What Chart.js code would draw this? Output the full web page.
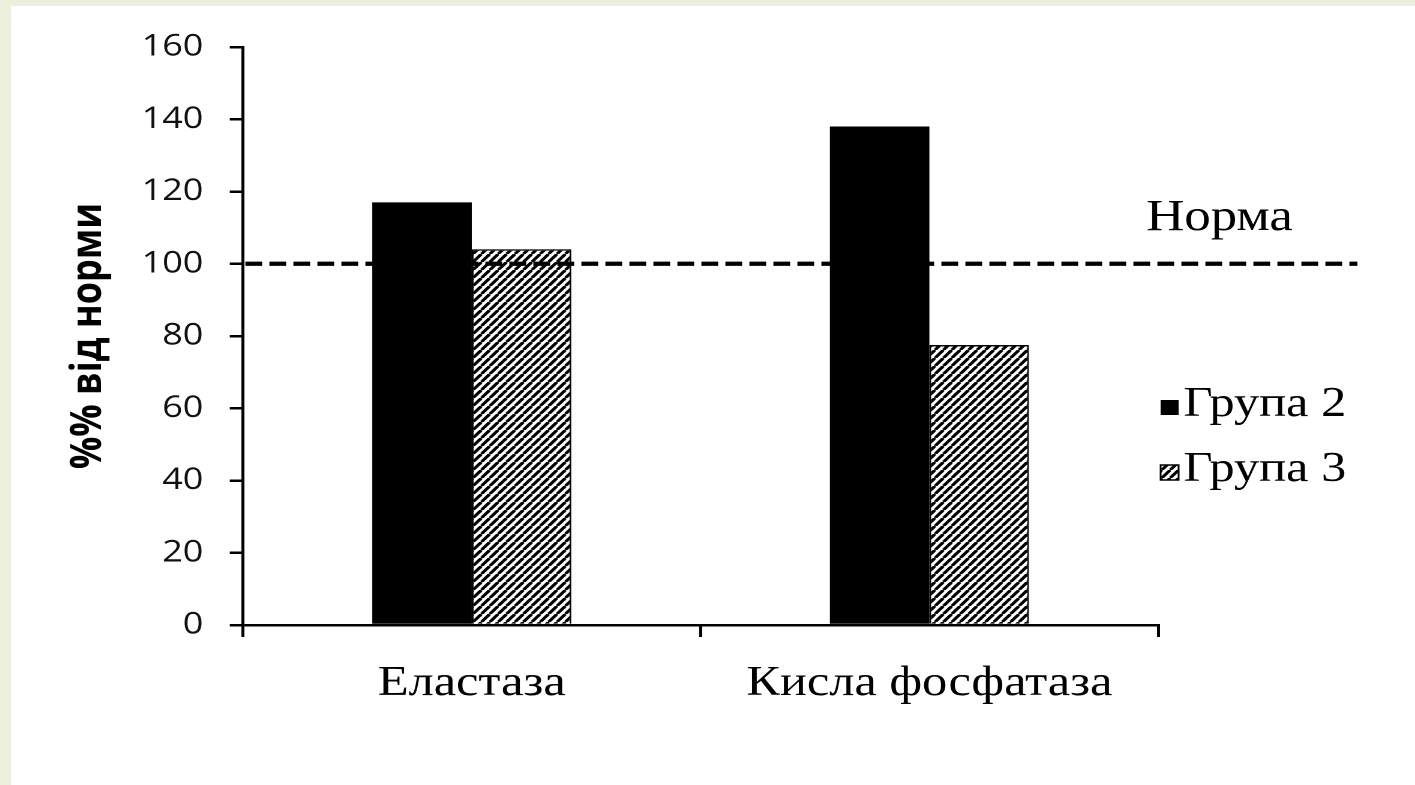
<!DOCTYPE html>
<html>
<head>
<meta charset="utf-8">
<script src="https://cdn.jsdelivr.net/npm/chart.js@4/dist/chart.umd.min.js"></script>
<style>
  html, body { margin: 0; padding: 0; width: 1415px; height: 785px; overflow: hidden; background: #edf0dc; }
  #sheet { position: absolute; left: 11px; top: 6px; width: 1404px; height: 779px; background: #fff; overflow: hidden; }
  /* the original picture is stretched sideways, so is ours */
  #stretch { width: 1170px; height: 779px; transform: scaleX(1.2); transform-origin: 0 0; }
</style>
</head>
<body>
<div id="sheet"><div id="stretch"><canvas id="chart"></canvas></div></div>
<script>
// дані з рисунка
const categories = ['Еластаза', 'Кисла фосфатаза'];
const group2 = [117, 138];
const group3 = [104, 77.5];
const seriesNames = ['Група 2', 'Група 3'];
const NORM_VALUE = 100;
const NORM_LABEL = 'Норма';
const Y_TITLE = '%% від норми';
const Y_MIN = 0, Y_MAX = 160, Y_STEP = 20;

const SERIF = '"Liberation Serif", "Times New Roman", serif';
const SANS = '"Open Sans", "DejaVu Sans", sans-serif';

// штрихування для групи 3
function hatchPattern(){
  const c = document.createElement('canvas');
  const w = 14, h = 16;
  c.width = w; c.height = h;
  const g = c.getContext('2d');
  g.fillStyle = '#fff';
  g.fillRect(0, 0, w, h);
  g.strokeStyle = '#000';
  g.lineWidth = 5.5;
  [-w, 0, w].forEach(dx => {
    g.beginPath();
    g.moveTo(dx, h);
    g.lineTo(dx + w, 0);
    g.stroke();
  });
  const p = document.createElement('canvas').getContext('2d').createPattern(c, 'repeat');
  p.setTransform(new DOMMatrix().scale(0.5));
  return p;
}
const hatch = hatchPattern();

const extras = {
  id: 'extras',
  afterDatasetsDraw(chart){
    const { ctx, chartArea, scales: { y } } = chart;
    const py = y.getPixelForValue(NORM_VALUE);
    ctx.save();
    ctx.setLineDash([14, 6]);
    ctx.lineWidth = 4.2;
    ctx.strokeStyle = '#000';
    ctx.beginPath();
    ctx.moveTo(chartArea.left + 2, py);
    ctx.lineTo(chartArea.right + 166, py);
    ctx.stroke();
    ctx.restore();
  },
  afterDraw(chart){
    const { ctx, chartArea, scales: { y } } = chart;
    const py = y.getPixelForValue(NORM_VALUE);
    ctx.save();
    ctx.fillStyle = '#000';
    ctx.textBaseline = 'alphabetic';
    ctx.font = '44px ' + SERIF;
    ctx.fillText(NORM_LABEL, chartArea.right - 10, py - 34);

    // легенда
    ctx.font = '42px ' + SERIF;
    chart.data.datasets.forEach((ds, i) => {
      const base = chartArea.top + 369 + i * 65;
      const sx = chartArea.right + 2;
      ctx.fillStyle = ds.backgroundColor;
      ctx.fillRect(sx, base - 16, 15, 15);
      if(ds.borderWidth){
        ctx.lineWidth = 1.5;
        ctx.strokeStyle = '#000';
        ctx.strokeRect(sx, base - 16, 15, 15);
      }
      ctx.fillStyle = '#000';
      ctx.fillText(ds.label, sx + 19, base);
    });
    ctx.restore();
  }
};

new Chart(document.getElementById('chart'), {
  type: 'bar',
  data: {
    labels: categories,
    datasets: [
      { label: seriesNames[0], data: group2, backgroundColor: '#000', borderWidth: 0 },
      { label: seriesNames[1], data: group3, backgroundColor: hatch, borderColor: '#000', borderWidth: 1.5 }
    ]
  },
  options: {
    responsive: true,
    maintainAspectRatio: false,
    devicePixelRatio: 2,
    animation: false,
    layout: { padding: { top: 41, right: 214, bottom: 0, left: 0 } },
    plugins: { legend: { display: false }, tooltip: { enabled: false } },
    datasets: { bar: { barPercentage: 1, categoryPercentage: 0.435 } },
    scales: {
      x: {
        afterFit: s => { s.height = 160; },
        grid: { offset: true, drawOnChartArea: false, drawTicks: true, tickLength: 12, color: '#000', lineWidth: 2.5 },
        border: { display: true, color: '#000', width: 2.5 },
        ticks: { color: '#000', padding: 22, font: { family: SERIF, size: 42 } }
      },
      y: {
        min: Y_MIN, max: Y_MAX,
        afterFit: s => { s.width = 193.3; },
        grid: { drawOnChartArea: false, drawTicks: true, tickLength: 11, color: '#000', lineWidth: 2.5 },
        border: { display: true, color: '#000', width: 2.5 },
        ticks: { stepSize: Y_STEP, color: '#111', padding: 22, font: { family: SANS, size: 30 } },
        title: { display: true, text: Y_TITLE, color: '#000', padding: { top: 43, bottom: 0 },
                 font: { family: SANS, size: 36, weight: 'bold' } }
      }
    }
  },
  plugins: [extras]
});
</script>
</body>
</html>
